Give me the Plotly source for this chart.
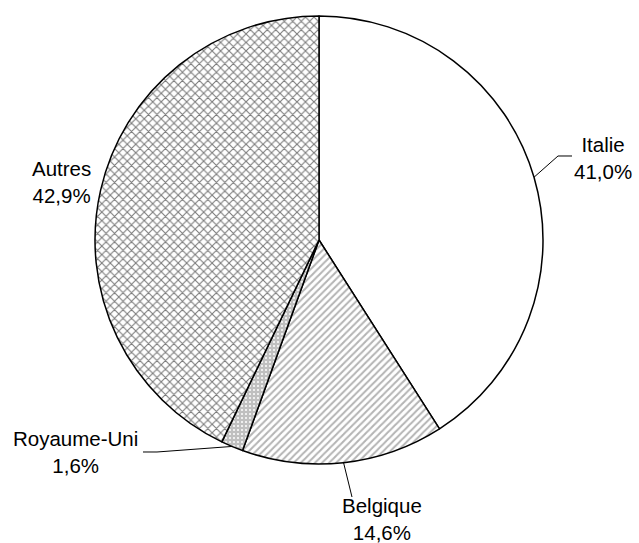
import math
import plotly.graph_objects as go

# ---- data ----
labels = ["Italie", "Belgique", "Royaume-Uni", "Autres"]
values = [41.0, 14.6, 1.6, 42.9]
value_text = ["41,0%", "14,6%", "1,6%", "42,9%"]

# ---- styling / layout ----
W, H = 639, 543
CX, CY, R = 319, 240, 224  # pie centre & radius in pixels

pattern_shapes = ["", "/", ".", "x"]
pattern_fg = ["#ffffff", "#b4b4b4", "#ffffff", "#7a7a7a"]
pattern_bg = ["#ffffff", "#ffffff", "#c0c0c0", "#ffffff"]
pattern_size = [8, 5, 4, 6]
pattern_solid = [0.3, 0.4, 0.2, 0.32]

# label block centres (pixels) and leader elbows
label_pos = {"Italie": (603, 158), "Belgique": (382, 519),
             "Royaume-Uni": (75, 452), "Autres": (61, 182)}
leader_pts = {"Italie": [(558, 156), (572, 156)],
              "Belgique": [(352, 497)],
              "Royaume-Uni": [(157, 452), (143, 452)]}


def px(x, y):
    return x / W, 1 - y / H


fig = go.Figure(go.Pie(
    labels=labels, values=values, sort=False, direction="clockwise",
    rotation=0, textinfo="none", hoverinfo="label+percent",
    marker=dict(colors=pattern_bg, line=dict(color="black", width=1.5),
                pattern=dict(shape=pattern_shapes, fgcolor=pattern_fg,
                             bgcolor=pattern_bg, size=pattern_size,
                             solidity=pattern_solid, fillmode="replace")),
    domain=dict(x=[(CX - R) / W, (CX + R) / W],
                y=[(H - CY - R) / H, (H - CY + R) / H]),
    showlegend=False,
))

annotations = []
shapes = []
total = sum(values)
cum = 0.0
for lab, v, t in zip(labels, values, value_text):
    mid = (cum + v / 2) / total * 2 * math.pi
    cum += v
    lx, ly = label_pos[lab]
    ax, ay = px(lx, ly)
    annotations.append(dict(x=ax, y=ay, xref="paper", yref="paper",
                            text=f"{lab}<br>{t}", showarrow=False,
                            xanchor="center", yanchor="middle", align="center",
                            font=dict(family="Liberation Sans, Arial", size=20.5,
                                      color="black")))
    if lab in leader_pts:
        ex = CX + R * math.sin(mid)
        ey = CY - R * math.cos(mid)
        pts = [(ex, ey)] + leader_pts[lab]
        path = "M " + " L ".join(f"{px(x, y)[0]:.5f},{px(x, y)[1]:.5f}" for x, y in pts)
        shapes.append(dict(type="path", path=path, xref="paper", yref="paper",
                           line=dict(color="black", width=1)))

fig.update_layout(width=W, height=H, margin=dict(l=0, r=0, t=0, b=0),
                  paper_bgcolor="white", plot_bgcolor="white",
                  annotations=annotations, shapes=shapes)

fig.write_html("out.html", config={"displayModeBar": False},
               post_script="document.body.style.margin='0';document.body.style.overflow='hidden';")
